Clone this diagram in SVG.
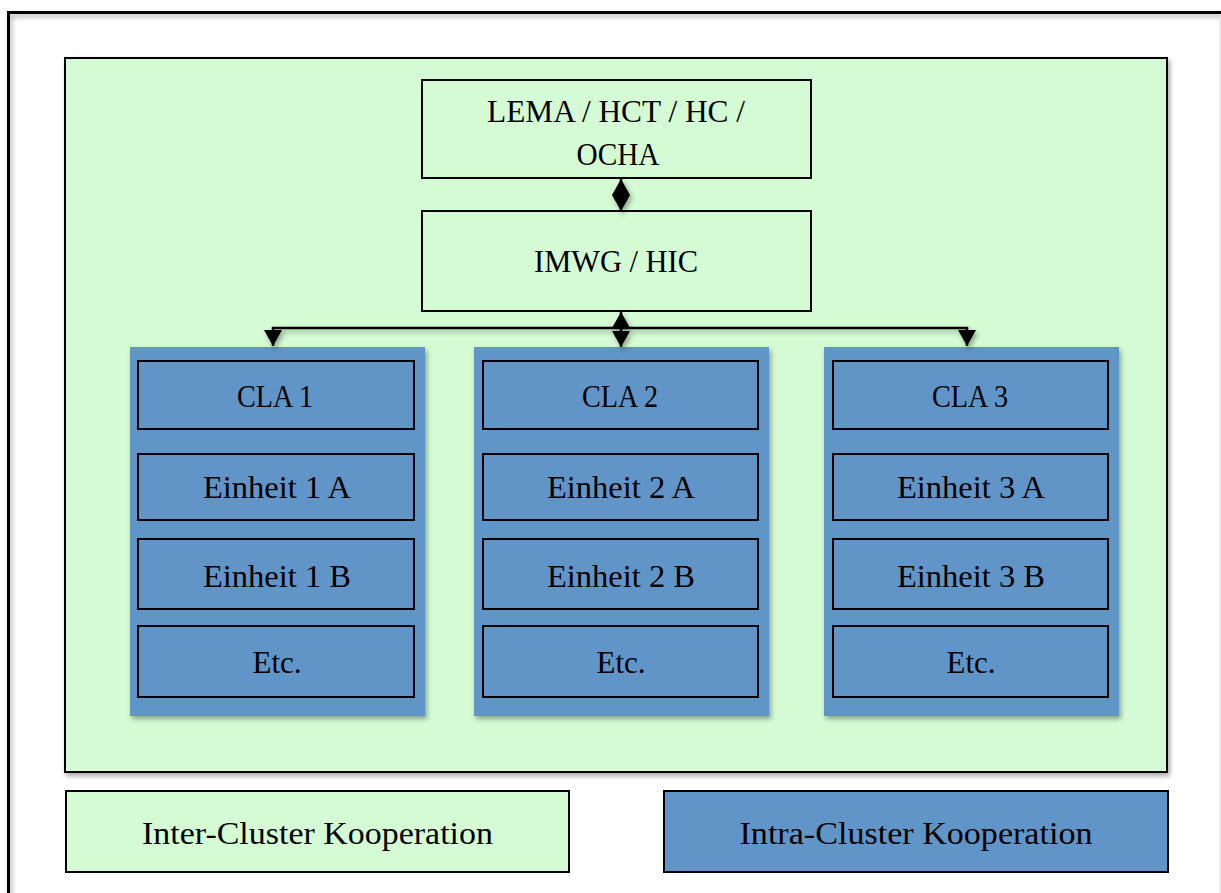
<svg xmlns="http://www.w3.org/2000/svg" width="1221" height="893" viewBox="0 0 1221 893">
<style>
.t{font-family:"Liberation Serif","DejaVu Serif",serif;font-size:32px;fill:#000;text-anchor:middle}
.g{fill:#d4fbd4;stroke:#000;stroke-width:2}
.b{fill:#6195c8;stroke:#000;stroke-width:2}
.cl{fill:#6195c8}
.c{stroke:#000;stroke-width:2.5;fill:none}
</style>
<defs>
<filter id="sh" x="-5%" y="-5%" width="110%" height="110%">
<feDropShadow dx="2" dy="3" stdDeviation="2.5" flood-color="#000" flood-opacity="0.35"/>
</filter>
<marker id="ah" viewBox="0 0 16 18" refX="16" refY="9" markerWidth="16" markerHeight="18" markerUnits="userSpaceOnUse" orient="auto-start-reverse">
<path d="M0,0 L16,9 L0,18 Z" fill="#000"/>
</marker>
</defs>
<rect width="1221" height="893" fill="#fff"/>
<g id="frame">
<path d="M8.5,893 L8.5,12.5 L1221,12.5" fill="none" stroke="#000" stroke-width="3" filter="url(#sh)"/>
<line x1="1220" y1="14" x2="1220" y2="893" stroke="#e4e4e4" stroke-width="1.5"/>
</g>
<g id="inter-cluster-area">
<rect class="g" x="65" y="58" width="1102" height="714" filter="url(#sh)"/>
</g>
<g id="lema">
<rect class="g" x="422" y="80" width="389" height="98"/>
<text class="t" x="616" y="122" textLength="258" lengthAdjust="spacingAndGlyphs">LEMA / HCT / HC /</text>
<text class="t" x="618" y="165" textLength="83" lengthAdjust="spacingAndGlyphs">OCHA</text>
</g>
<g id="imwg">
<rect class="g" x="422" y="211" width="389" height="100"/>
<text class="t" x="616" y="272" textLength="164" lengthAdjust="spacingAndGlyphs">IMWG / HIC</text>
</g>
<g id="cluster1">
<rect class="cl" x="130" y="347" width="295" height="369" filter="url(#sh)"/>
<rect class="b" x="138" y="361" width="276" height="68"/>
<text class="t" x="275" y="407" textLength="76" lengthAdjust="spacingAndGlyphs">CLA 1</text>
<rect class="b" x="138" y="454" width="276" height="66"/>
<text class="t" x="277" y="498" textLength="148" lengthAdjust="spacingAndGlyphs">Einheit 1 A</text>
<rect class="b" x="138" y="539" width="276" height="70"/>
<text class="t" x="277" y="587" textLength="148" lengthAdjust="spacingAndGlyphs">Einheit 1 B</text>
<rect class="b" x="138" y="626" width="276" height="71"/>
<text class="t" x="277" y="673" textLength="49" lengthAdjust="spacingAndGlyphs">Etc.</text>
</g>
<g id="cluster2">
<rect class="cl" x="474" y="347" width="295" height="369" filter="url(#sh)"/>
<rect class="b" x="483" y="361" width="275" height="68"/>
<text class="t" x="620" y="407" textLength="76" lengthAdjust="spacingAndGlyphs">CLA 2</text>
<rect class="b" x="483" y="454" width="275" height="66"/>
<text class="t" x="621" y="498" textLength="148" lengthAdjust="spacingAndGlyphs">Einheit 2 A</text>
<rect class="b" x="483" y="539" width="275" height="70"/>
<text class="t" x="621" y="587" textLength="148" lengthAdjust="spacingAndGlyphs">Einheit 2 B</text>
<rect class="b" x="483" y="626" width="275" height="71"/>
<text class="t" x="621" y="673" textLength="49" lengthAdjust="spacingAndGlyphs">Etc.</text>
</g>
<g id="cluster3">
<rect class="cl" x="824" y="347" width="295" height="369" filter="url(#sh)"/>
<rect class="b" x="833" y="361" width="275" height="68"/>
<text class="t" x="970" y="407" textLength="76" lengthAdjust="spacingAndGlyphs">CLA 3</text>
<rect class="b" x="833" y="454" width="275" height="66"/>
<text class="t" x="971" y="498" textLength="148" lengthAdjust="spacingAndGlyphs">Einheit 3 A</text>
<rect class="b" x="833" y="539" width="275" height="70"/>
<text class="t" x="971" y="587" textLength="148" lengthAdjust="spacingAndGlyphs">Einheit 3 B</text>
<rect class="b" x="833" y="626" width="275" height="71"/>
<text class="t" x="971" y="673" textLength="49" lengthAdjust="spacingAndGlyphs">Etc.</text>
</g>
<g id="legend-inter">
<rect class="g" x="66" y="791" width="503" height="81"/>
<text class="t" x="317.5" y="844" textLength="351" lengthAdjust="spacingAndGlyphs">Inter-Cluster Kooperation</text>
</g>
<g id="legend-intra">
<rect class="b" x="664" y="791" width="504" height="81"/>
<text class="t" x="916" y="844" textLength="353" lengthAdjust="spacingAndGlyphs">Intra-Cluster Kooperation</text>
</g>
<g id="connectors" filter="url(#sh)">
<line class="c" x1="621" y1="179" x2="621" y2="195" marker-start="url(#ah)"/>
<line class="c" x1="621" y1="195" x2="621" y2="211" marker-end="url(#ah)"/>
<line class="c" x1="621" y1="327" x2="621" y2="312" marker-end="url(#ah)"/>
<path class="c" d="M273,346 L273,328 L967,328 L967,346" marker-start="url(#ah)" marker-end="url(#ah)"/>
<line class="c" x1="621" y1="328" x2="621" y2="347" marker-end="url(#ah)"/>
</g>
</svg>
